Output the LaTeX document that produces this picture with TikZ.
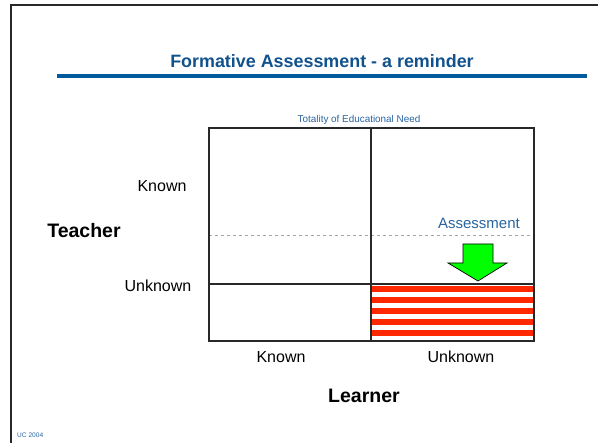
\documentclass[tikz,border=0pt]{standalone}
\usepackage{fontspec}
\setmainfont{Liberation Sans}
\definecolor{titleblue}{RGB}{18,82,140}
\definecolor{ruleblue}{RGB}{0,90,156}
\definecolor{labelblue}{RGB}{40,100,160}
\definecolor{stripered}{RGB}{255,40,0}
\definecolor{arrowgreen}{RGB}{0,255,0}
\definecolor{framegray}{RGB}{40,40,40}
\begin{document}
\begin{tikzpicture}[x=1pt,y=-1pt,
  lbl/.style={inner sep=0pt,font=\fontsize{16}{18}\selectfont,text=black},
  axis/.style={inner sep=0pt,font=\fontsize{19.5}{22}\selectfont\bfseries,text=black},
  boxline/.style={draw=framegray,line width=1.1pt},
  stripe/.style={fill=stripered,draw=none}]
\useasboundingbox (0,0) rectangle (598,443);
% page frame
\draw[framegray,line width=1.4pt] (598,5) -- (11,5) -- (11,443);
% title and rule
\node[inner sep=0pt,text=titleblue,font=\fontsize{17.9}{20}\selectfont\bfseries] (title) at (322,61) {Formative Assessment - a reminder};
\fill[ruleblue] (57,74) rectangle (587,78);
\node[inner sep=0pt,text=labelblue,font=\fontsize{9.9}{12}\selectfont] (total) at (359,120) {Totality of Educational Need};
% stripes
\foreach \y in {286,297,308,319,330} {\fill[stripe] (371,\y) rectangle (534,\y+6);}
% grid
\draw[gray!70,dashed,line width=0.6pt] (209,235) -- (534,235);
\draw[boxline] (209,128) rectangle (534,341);
\draw[boxline] (371,128) -- (371,341);
\draw[boxline] (209,284) -- (534,284);
% arrow
\draw[fill=arrowgreen,draw=black,line width=0.7pt,line join=miter]
  (463,244) -- (493,244) -- (493,263) -- (507,263) -- (478,281) -- (448,263) -- (463,263) -- cycle;
\node[inner sep=0pt,text=labelblue,font=\fontsize{15}{17}\selectfont,anchor=east] (assess) at (520,223) {Assessment};
% labels
\node[lbl] (tknown) at (162,186) {Known};
\node[lbl] (tunknown) at (158,286) {Unknown};
\node[axis] (teacher) at (84,231) {Teacher};
\node[lbl] (lknown) at (281,357) {Known};
\node[lbl] (lunknown) at (461,357) {Unknown};
\node[axis] (learner) at (364,396) {Learner};
\node[inner sep=0pt,text=labelblue,font=\fontsize{6.6}{8}\selectfont,anchor=west] (uc) at (17,435) {UC 2004};
\end{tikzpicture}
\end{document}
